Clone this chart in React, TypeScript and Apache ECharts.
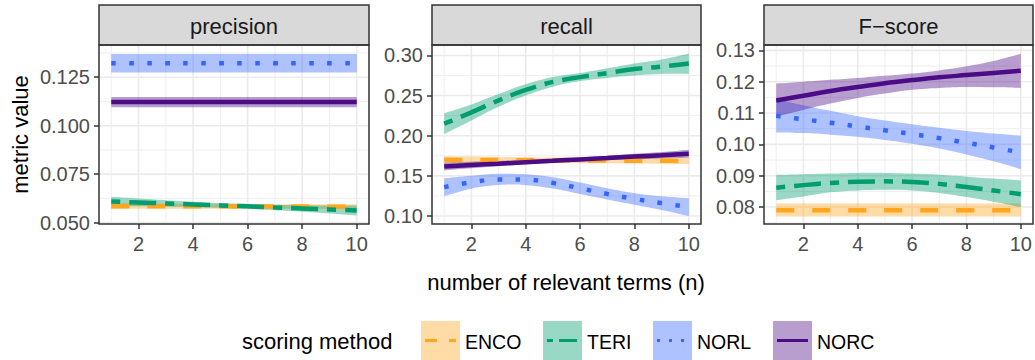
import React, { useEffect, useRef } from "react";
import * as echarts from "echarts";

// ---------- data ----------
const X = [1, 2, 3, 4, 5, 6, 7, 8, 9, 10];
const X_TICKS = [2, 4, 6, 8, 10];
const X_MINOR = [1, 3, 5, 7, 9];

const METHODS = ["ENCO", "TERI", "NORL", "NORC"];
const PANEL_TITLES = ["precision", "recall", "F\u2212score"];

// precision
const precENCO = [0.0585, 0.0585, 0.0584, 0.0584, 0.0584, 0.0583, 0.0583, 0.0583, 0.0582, 0.0582];
const precENCOlo = [0.057, 0.0571, 0.0571, 0.0572, 0.0572, 0.0572, 0.0571, 0.0571, 0.057, 0.0569];
const precENCOhi = [0.06, 0.0599, 0.0598, 0.0597, 0.0596, 0.0595, 0.0595, 0.0595, 0.0595, 0.0595];
const precTERI = [0.0609, 0.0604, 0.0599, 0.0594, 0.0589, 0.0584, 0.0578, 0.0573, 0.0568, 0.0563];
const precTERIlo = [0.0585, 0.0584, 0.0582, 0.058, 0.0577, 0.0572, 0.0564, 0.0556, 0.0547, 0.0537];
const precTERIhi = [0.0633, 0.0624, 0.0616, 0.0608, 0.0601, 0.0596, 0.0592, 0.059, 0.0589, 0.0589];
const precNORL = [0.1322, 0.1322, 0.1322, 0.1322, 0.1322, 0.1322, 0.1322, 0.1322, 0.1322, 0.1322];
const precNORLlo = [0.1274, 0.1274, 0.1274, 0.1274, 0.1274, 0.1274, 0.1274, 0.1274, 0.1274, 0.1274];
const precNORLhi = [0.1369, 0.1369, 0.1369, 0.1369, 0.1369, 0.1369, 0.1369, 0.1369, 0.1369, 0.1369];
const precNORC = [0.1122, 0.1122, 0.1122, 0.1122, 0.1122, 0.1122, 0.1122, 0.1122, 0.1122, 0.1122];
const precNORClo = [0.1095, 0.1095, 0.1095, 0.1095, 0.1095, 0.1095, 0.1095, 0.1095, 0.1095, 0.1095];
const precNORChi = [0.1148, 0.1148, 0.1148, 0.1148, 0.1148, 0.1148, 0.1148, 0.1148, 0.1148, 0.1148];

// recall
const recENCO = [0.17, 0.1698, 0.1697, 0.1695, 0.1693, 0.1692, 0.169, 0.1688, 0.1687, 0.1685];
const recENCOlo = [0.1655, 0.1657, 0.1658, 0.1659, 0.1659, 0.1658, 0.1656, 0.1653, 0.165, 0.1646];
const recENCOhi = [0.1745, 0.174, 0.1736, 0.1731, 0.1727, 0.1726, 0.1724, 0.1723, 0.1724, 0.1724];
const recTERI = [0.215, 0.229, 0.244, 0.257, 0.267, 0.273, 0.278, 0.283, 0.286, 0.29];
const recTERIlo = [0.202, 0.219, 0.236, 0.25, 0.261, 0.268, 0.272, 0.275, 0.277, 0.277];
const recTERIhi = [0.228, 0.239, 0.252, 0.264, 0.273, 0.278, 0.284, 0.29, 0.295, 0.302];
const recNORL = [0.1359, 0.142, 0.1455, 0.1452, 0.1412, 0.1345, 0.1275, 0.1212, 0.116, 0.111];
const recNORLlo = [0.1249, 0.134, 0.1385, 0.1384, 0.1342, 0.1273, 0.1205, 0.114, 0.1075, 0.1];
const recNORLhi = [0.1469, 0.15, 0.1525, 0.152, 0.1482, 0.1417, 0.1345, 0.1284, 0.1245, 0.122];
const recNORC = [0.1617, 0.1635, 0.1652, 0.167, 0.1687, 0.1705, 0.1722, 0.174, 0.1757, 0.1775];
const recNORClo = [0.1567, 0.1593, 0.1619, 0.1643, 0.1663, 0.168, 0.1694, 0.1706, 0.1717, 0.1725];
const recNORChi = [0.1667, 0.1677, 0.1685, 0.1697, 0.1711, 0.173, 0.175, 0.1774, 0.1797, 0.1825];

// F-score
const fENCO = [0.079, 0.079, 0.079, 0.079, 0.079, 0.079, 0.079, 0.079, 0.079, 0.079];
const fENCOlo = [0.077, 0.077, 0.077, 0.077, 0.077, 0.077, 0.077, 0.077, 0.077, 0.077];
const fENCOhi = [0.0811, 0.0811, 0.0811, 0.0811, 0.0811, 0.0811, 0.0811, 0.0811, 0.0811, 0.0811];
const fTERI = [0.0862, 0.087, 0.0877, 0.0881, 0.0882, 0.088, 0.0874, 0.0864, 0.0853, 0.0841];
const fTERIlo = [0.0822, 0.0834, 0.0847, 0.0853, 0.0855, 0.0853, 0.0845, 0.0832, 0.0817, 0.08];
const fTERIhi = [0.0903, 0.0905, 0.0907, 0.0909, 0.0909, 0.0907, 0.0903, 0.0897, 0.0891, 0.0885];
const fNORL = [0.1091, 0.108, 0.1069, 0.1057, 0.1045, 0.1033, 0.102, 0.1005, 0.099, 0.0974];
const fNORLlo = [0.1038, 0.1036, 0.1031, 0.1024, 0.1014, 0.1002, 0.0987, 0.0968, 0.0946, 0.0921];
const fNORLhi = [0.1145, 0.1125, 0.1107, 0.109, 0.1076, 0.1064, 0.1053, 0.1043, 0.1035, 0.1028];
const fNORC = [0.114, 0.1155, 0.117, 0.1183, 0.1195, 0.1205, 0.1214, 0.1221, 0.1228, 0.1235];
const fNORClo = [0.1089, 0.111, 0.113, 0.1148, 0.1162, 0.1174, 0.118, 0.1183, 0.1182, 0.118];
const fNORChi = [0.1194, 0.12, 0.1206, 0.1212, 0.1219, 0.1226, 0.1236, 0.1249, 0.1266, 0.1289];

// y axis ticks per panel
const Y1_TICKS = [0.05, 0.075, 0.1, 0.125];
const Y1_MINOR = [0.0625, 0.0875, 0.1125, 0.1375];
const Y2_TICKS = [0.1, 0.15, 0.2, 0.25, 0.3];
const Y2_MINOR = [0.125, 0.175, 0.225, 0.275];
const Y3_TICKS = [0.08, 0.09, 0.1, 0.11, 0.12, 0.13];
const Y3_MINOR = [0.075, 0.085, 0.095, 0.105, 0.115, 0.125];

const PANEL_DATA = [
  { mean: [precENCO, precTERI, precNORL, precNORC], lo: [precENCOlo, precTERIlo, precNORLlo, precNORClo], hi: [precENCOhi, precTERIhi, precNORLhi, precNORChi] },
  { mean: [recENCO, recTERI, recNORL, recNORC], lo: [recENCOlo, recTERIlo, recNORLlo, recNORClo], hi: [recENCOhi, recTERIhi, recNORLhi, recNORChi] },
  { mean: [fENCO, fTERI, fNORL, fNORC], lo: [fENCOlo, fTERIlo, fNORLlo, fNORClo], hi: [fENCOhi, fTERIhi, fNORLhi, fNORChi] },
];

// ---------- styling / layout ----------
const FONT = '"Liberation Sans", Arial, Helvetica, sans-serif';
const COLORS = ["#FFA51F", "#009E6E", "#3366FF", "#4B0C86"];
const LW = 4.5;
const SMOOTH = 0.4;
const DASH: (number[] | null)[] = [[18, 18], [9, 9, 27, 9], [4.5, 13.5], null];
const LEG_DASH: (number[] | null)[] = [[12, 12], [6, 6, 18, 6], [3, 9], null];

const AXES = [
  { min: 0.0493, max: 0.1416, ticks: Y1_TICKS, minor: Y1_MINOR, digits: 3 },
  { min: 0.09, max: 0.313, ticks: Y2_TICKS, minor: Y2_MINOR, digits: 2 },
  { min: 0.0746, max: 0.1317, ticks: Y3_TICKS, minor: Y3_MINOR, digits: 2 },
];
const X_MIN = 0.55;
const X_MAX = 10.45;
const GRID_LEFT = [99, 432, 764];
const GRID_WIDTH = [270, 269, 269];
const GRID_TOP = 45;
const GRID_HEIGHT = 179;
const STRIP_TOP = 5;

const LEG_KEY_X = [421, 543, 653, 773];
const LEG_Y = 321;
const LEG_KEY = 39;

function rgba(hex: string, a: number) {
  const n = parseInt(hex.slice(1), 16);
  return `rgba(${(n >> 16) & 255},${(n >> 8) & 255},${n & 255},${a})`;
}

function zip(xs: number[], ys: number[]) {
  return xs.map((x, i) => [x, ys[i]]);
}

// smooth cubic path through pixel points (same style of control points as ECharts line smoothing)
function smoothSegments(pts: number[][], smooth: number, move: boolean) {
  let d = "";
  const n = pts.length;
  const cps: number[][][] = pts.map((p, i) => {
    const prev = pts[Math.max(0, i - 1)];
    const next = pts[Math.min(n - 1, i + 1)];
    const vx = next[0] - prev[0];
    const vy = next[1] - prev[1];
    const d0 = Math.hypot(p[0] - prev[0], p[1] - prev[1]);
    const d1 = Math.hypot(next[0] - p[0], next[1] - p[1]);
    const sum = d0 + d1 || 1;
    const r0 = d0 / sum;
    const r1 = d1 / sum;
    return [
      [p[0] - vx * smooth * r0, p[1] - vy * smooth * r0],
      [p[0] + vx * smooth * r1, p[1] + vy * smooth * r1],
    ];
  });
  d += (move ? "M" : "L") + pts[0][0] + " " + pts[0][1];
  for (let i = 0; i < n - 1; i++) {
    const c1 = cps[i][1];
    const c2 = cps[i + 1][0];
    const p = pts[i + 1];
    d += ` C${c1[0]} ${c1[1]} ${c2[0]} ${c2[1]} ${p[0]} ${p[1]}`;
  }
  return d;
}

function buildOption() {
  const grid: any[] = [];
  const xAxis: any[] = [];
  const yAxis: any[] = [];
  const series: any[] = [];
  const graphic: any[] = [];

  for (let p = 0; p < 3; p++) {
    const ax = AXES[p];
    grid.push({ left: GRID_LEFT[p], top: GRID_TOP, width: GRID_WIDTH[p], height: GRID_HEIGHT, containLabel: false });
    xAxis.push({
      type: "value", gridIndex: p, min: X_MIN, max: X_MAX,
      axisLine: { show: false, onZero: false },
      axisTick: { show: true, length: 5, customValues: X_TICKS, lineStyle: { color: "#333333", width: 1.5 } },
      axisLabel: { customValues: X_TICKS, margin: 10, color: "#4D4D4D", fontSize: 20, fontFamily: FONT },
      splitLine: { show: false },
    });
    yAxis.push({
      type: "value", gridIndex: p, min: ax.min, max: ax.max,
      axisLine: { show: false, onZero: false },
      axisTick: { show: true, length: 5, customValues: ax.ticks, lineStyle: { color: "#333333", width: 1.5 } },
      axisLabel: {
        customValues: ax.ticks, margin: 9, color: "#4D4D4D", fontSize: 20, fontFamily: FONT,
        formatter: (v: number) => v.toFixed(ax.digits),
      },
      splitLine: { show: false },
    });

    // grid lines: [value, kind] kind 0 x-major, 1 x-minor, 2 y-major, 3 y-minor
    const gl: number[][] = [];
    X_MINOR.forEach((v) => gl.push([v, 1]));
    ax.minor.forEach((v) => gl.push([v, 3]));
    X_TICKS.forEach((v) => gl.push([v, 0]));
    ax.ticks.forEach((v) => gl.push([v, 2]));
    series.push({
      type: "custom", xAxisIndex: p, yAxisIndex: p, silent: true, z: 1,
      data: gl,
      renderItem: (params: any, api: any) => {
        const v = api.value(0);
        const k = api.value(1);
        const cs = params.coordSys;
        const lw = k === 0 || k === 2 ? 1.6 : 0.8;
        if (k < 2) {
          const pt = api.coord([v, ax.min]);
          return { type: "line", shape: { x1: pt[0], y1: cs.y, x2: pt[0], y2: cs.y + cs.height }, style: { stroke: "#EBEBEB", lineWidth: lw } };
        }
        const pt = api.coord([X_MIN, v]);
        return { type: "line", shape: { x1: cs.x, y1: pt[1], x2: cs.x + cs.width, y2: pt[1] }, style: { stroke: "#EBEBEB", lineWidth: lw } };
      },
    });

    const pd = PANEL_DATA[p];
    METHODS.forEach((m, i) => {
      const lo = pd.lo[i];
      const hi = pd.hi[i];
      // confidence band
      series.push({
        type: "custom", name: `${m}-band`, xAxisIndex: p, yAxisIndex: p, silent: true, z: 2,
        data: X.map((x, j) => [x, lo[j], hi[j]]),
        encode: { x: 0, y: [1, 2] },
        renderItem: (params: any, api: any) => {
          if (params.dataIndex !== 0) return null;
          const up = X.map((x, j) => api.coord([x, hi[j]]));
          const dn = X.map((x, j) => api.coord([x, lo[j]])).reverse();
          const d = smoothSegments(up, SMOOTH, true) + " " + smoothSegments(dn, SMOOTH, false) + " Z";
          return {
            type: "path",
            shape: { pathData: d },
            style: { fill: rgba(COLORS[i], 0.4), stroke: "none" },
          };
        },
      });
      // fitted line
      series.push({
        type: "line", name: m, xAxisIndex: p, yAxisIndex: p, z: 2,
        data: zip(X, pd.mean[i]), smooth: SMOOTH, showSymbol: false, symbol: "none", silent: true,
        lineStyle: { color: COLORS[i], width: LW, type: DASH[i] ? DASH[i] : "solid", cap: "butt" },
      });
    });

    // strip
    graphic.push({
      type: "rect", z: 100, silent: true,
      shape: { x: GRID_LEFT[p], y: STRIP_TOP, width: GRID_WIDTH[p], height: GRID_TOP - STRIP_TOP },
      style: { fill: "#D9D9D9", stroke: "#333333", lineWidth: 1.5 },
    });
    graphic.push({
      type: "text", z: 101, silent: true,
      x: GRID_LEFT[p] + GRID_WIDTH[p] / 2, y: (STRIP_TOP + GRID_TOP) / 2 + 1,
      style: { text: PANEL_TITLES[p], fill: "#1A1A1A", font: `22px ${FONT}`, align: "center", verticalAlign: "middle" },
    });
    // panel border
    graphic.push({
      type: "rect", z: 100, silent: true,
      shape: { x: GRID_LEFT[p], y: GRID_TOP, width: GRID_WIDTH[p], height: GRID_HEIGHT },
      style: { fill: "none", stroke: "#333333", lineWidth: 1.5 },
    });
  }

  // axis titles
  graphic.push({
    type: "text", silent: true, x: 20, y: GRID_TOP + GRID_HEIGHT / 2, rotation: Math.PI / 2,
    style: { text: "metric value", fill: "#000000", font: `22px ${FONT}`, align: "center", verticalAlign: "middle" },
  });
  graphic.push({
    type: "text", silent: true, x: 566, y: 282,
    style: { text: "number of relevant terms (n)", fill: "#000000", font: `22px ${FONT}`, align: "center", verticalAlign: "middle" },
  });

  // legend
  graphic.push({
    type: "text", silent: true, x: 242, y: LEG_Y + LEG_KEY / 2 + 1,
    style: { text: "scoring method", fill: "#000000", font: `22px ${FONT}`, align: "left", verticalAlign: "middle" },
  });
  METHODS.forEach((m, i) => {
    const kx = LEG_KEY_X[i];
    const cy = LEG_Y + LEG_KEY / 2;
    graphic.push({
      type: "rect", silent: true,
      shape: { x: kx, y: LEG_Y, width: LEG_KEY, height: LEG_KEY },
      style: { fill: rgba(COLORS[i], 0.4), stroke: "none" },
    });
    graphic.push({
      type: "line", silent: true,
      shape: { x1: kx + 4, y1: cy, x2: kx + 35, y2: cy },
      style: { stroke: COLORS[i], lineWidth: 3, lineDash: LEG_DASH[i] || undefined, lineCap: "butt" },
    });
    graphic.push({
      type: "text", silent: true, x: kx + LEG_KEY + 5, y: cy + 1,
      style: { text: m, fill: "#000000", font: `19.5px ${FONT}`, align: "left", verticalAlign: "middle" },
    });
  });

  return {
    animation: false,
    backgroundColor: "#FFFFFF",
    textStyle: { fontFamily: FONT },
    grid, xAxis, yAxis, series, graphic,
  };
}

export default function App() {
  const ref = useRef<HTMLDivElement>(null);
  useEffect(() => {
    document.body.style.margin = "0";
    if (!ref.current) return;
    const chart = echarts.init(ref.current, undefined, { renderer: "svg" });
    chart.setOption(buildOption() as any);
    return () => chart.dispose();
  }, []);
  return (
    <div
      ref={ref}
      style={{ position: "absolute", left: 0, top: 0, width: 1035, height: 360 }}
    />
  );
}
